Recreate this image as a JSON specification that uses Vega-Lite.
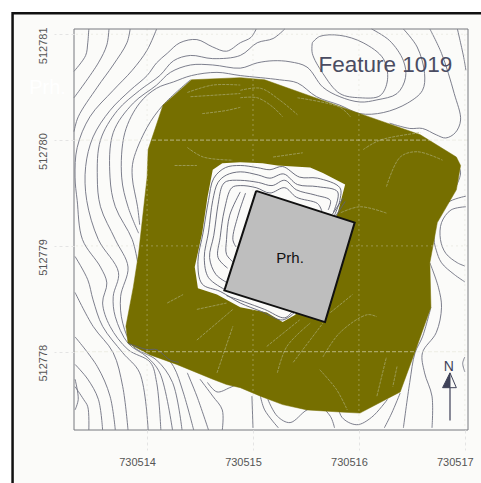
{"$schema":"https://vega.github.io/schema/vega-lite/v6.json","width":394,"height":401,"autosize":{"type":"none"},"padding":{"left":74,"top":29,"right":13,"bottom":53},"background":"white","view":{"stroke":null},
"datasets":{
"outer":[
{"c":"t1","x":730513.45,"y":512781.05},{"c":"t1","x":730513.44,"y":512780.92},{"c":"t1","x":730513.42,"y":512780.80},{"c":"t1","x":730513.31,"y":512780.65},
{"c":"t2","x":730513.64,"y":512781.05},{"c":"t2","x":730513.62,"y":512780.90},{"c":"t2","x":730513.54,"y":512780.73},{"c":"t2","x":730513.31,"y":512780.40},
{"c":"t3","x":730513.84,"y":512781.05},{"c":"t3","x":730513.81,"y":512780.92},{"c":"t3","x":730513.68,"y":512780.71},{"c":"t3","x":730513.53,"y":512780.50},{"c":"t3","x":730513.35,"y":512780.22},{"c":"t3","x":730513.31,"y":512780.08},
{"c":"t4","x":730514.09,"y":512781.05},{"c":"t4","x":730514.00,"y":512780.85},{"c":"t4","x":730513.86,"y":512780.66},{"c":"t4","x":730513.68,"y":512780.47},{"c":"t4","x":730513.46,"y":512780.22},{"c":"t4","x":730513.34,"y":512779.93},{"c":"t4","x":730513.32,"y":512779.65},{"c":"t4","x":730513.34,"y":512779.43},{"c":"t4","x":730513.39,"y":512779.06},{"c":"t4","x":730513.56,"y":512778.80},{"c":"t4","x":730513.62,"y":512778.65},{"c":"t4","x":730513.58,"y":512778.46},{"c":"t4","x":730513.65,"y":512778.24},{"c":"t4","x":730513.82,"y":512778.02},{"c":"t4","x":730514.03,"y":512777.90},{"c":"t4","x":730514.09,"y":512777.71},{"c":"t4","x":730514.13,"y":512777.26},
{"c":"t5","x":730515.03,"y":512781.05},{"c":"t5","x":730514.98,"y":512780.97},{"c":"t5","x":730514.88,"y":512780.92},{"c":"t5","x":730514.75,"y":512780.84},{"c":"t5","x":730514.62,"y":512780.88},{"c":"t5","x":730514.47,"y":512780.95},{"c":"t5","x":730514.31,"y":512780.92},{"c":"t5","x":730514.19,"y":512780.82},{"c":"t5","x":730514.09,"y":512780.73},{"c":"t5","x":730514.00,"y":512780.61},{"c":"t5","x":730513.84,"y":512780.47},{"c":"t5","x":730513.65,"y":512780.28},{"c":"t5","x":730513.49,"y":512780.03},{"c":"t5","x":730513.42,"y":512779.75},{"c":"t5","x":730513.43,"y":512779.43},{"c":"t5","x":730513.54,"y":512779.06},{"c":"t5","x":730513.73,"y":512778.75},{"c":"t5","x":730513.68,"y":512778.52},{"c":"t5","x":730513.70,"y":512778.33},{"c":"t5","x":730513.82,"y":512778.08},{"c":"t5","x":730514.00,"y":512777.95},{"c":"t5","x":730514.12,"y":512777.80},{"c":"t5","x":730514.24,"y":512777.26},
{"c":"t6","x":730515.30,"y":512781.05},{"c":"t6","x":730515.19,"y":512780.96},{"c":"t6","x":730515.04,"y":512780.92},{"c":"t6","x":730514.88,"y":512780.80},{"c":"t6","x":730514.62,"y":512780.77},{"c":"t6","x":730514.41,"y":512780.80},{"c":"t6","x":730514.25,"y":512780.75},{"c":"t6","x":730514.12,"y":512780.61},{"c":"t6","x":730513.93,"y":512780.47},{"c":"t6","x":730513.72,"y":512780.28},{"c":"t6","x":730513.56,"y":512780.00},{"c":"t6","x":730513.53,"y":512779.65},{"c":"t6","x":730513.56,"y":512779.37},{"c":"t6","x":730513.70,"y":512779.06},{"c":"t6","x":730513.82,"y":512778.80},{"c":"t6","x":730513.75,"y":512778.52},{"c":"t6","x":730513.77,"y":512778.27},{"c":"t6","x":730513.87,"y":512778.05},{"c":"t6","x":730514.09,"y":512777.92},{"c":"t6","x":730514.24,"y":512777.71},{"c":"t6","x":730514.33,"y":512777.26},
{"c":"t7","x":730516.12,"y":512781.05},{"c":"t7","x":730516.29,"y":512780.94},{"c":"t7","x":730516.42,"y":512780.75},{"c":"t7","x":730516.44,"y":512780.59},{"c":"t7","x":730516.36,"y":512780.44},{"c":"t7","x":730516.17,"y":512780.38},{"c":"t7","x":730516.01,"y":512780.36},{"c":"t7","x":730515.82,"y":512780.41},{"c":"t7","x":730515.66,"y":512780.50},{"c":"t7","x":730515.51,"y":512780.69},{"c":"t7","x":730515.35,"y":512780.74},{"c":"t7","x":730515.19,"y":512780.75},{"c":"t7","x":730515.04,"y":512780.73},{"c":"t7","x":730514.88,"y":512780.68},{"c":"t7","x":730514.62,"y":512780.71},{"c":"t7","x":730514.41,"y":512780.71},{"c":"t7","x":730514.22,"y":512780.64},{"c":"t7","x":730514.09,"y":512780.52},{"c":"t7","x":730513.87,"y":512780.35},{"c":"t7","x":730513.68,"y":512780.07},{"c":"t7","x":730513.65,"y":512779.65},{"c":"t7","x":730513.70,"y":512779.37},{"c":"t7","x":730513.86,"y":512779.06},{"c":"t7","x":730513.91,"y":512778.85},
{"c":"b9b","x":730514.12,"y":512778.02},{"c":"b9b","x":730514.25,"y":512777.86},{"c":"b9b","x":730514.34,"y":512777.62},{"c":"b9b","x":730514.44,"y":512777.26},
{"c":"t8","x":730516.42,"y":512781.05},{"c":"t8","x":730516.55,"y":512780.88},{"c":"t8","x":730516.62,"y":512780.63},{"c":"t8","x":730516.60,"y":512780.47},{"c":"t8","x":730516.46,"y":512780.35},{"c":"t8","x":730516.23,"y":512780.26},{"c":"t8","x":730516.01,"y":512780.25},{"c":"t8","x":730515.82,"y":512780.33},{"c":"t8","x":730515.60,"y":512780.41},{"c":"t8","x":730515.42,"y":512780.54},{"c":"t8","x":730515.25,"y":512780.57},{"c":"t8","x":730514.88,"y":512780.61},{"c":"t8","x":730514.66,"y":512780.64},{"c":"t8","x":730514.42,"y":512780.61},{"c":"t8","x":730514.25,"y":512780.55},{"c":"t8","x":730514.09,"y":512780.49},{"c":"t8","x":730513.93,"y":512780.35},{"c":"t8","x":730513.79,"y":512780.07},{"c":"t8","x":730513.76,"y":512779.65},{"c":"t8","x":730513.82,"y":512779.37},{"c":"t8","x":730513.92,"y":512779.12},
{"c":"t9","x":730514.41,"y":512780.57},{"c":"t9","x":730514.15,"y":512780.33},{"c":"t9","x":730514.00,"y":512780.12},{"c":"t9","x":730513.87,"y":512779.81},{"c":"t9","x":730513.86,"y":512779.65},{"c":"t9","x":730513.91,"y":512779.37},{"c":"t9","x":730513.93,"y":512779.20},
{"c":"f","x":730515.56,"y":512780.92},{"c":"f","x":730515.63,"y":512780.98},{"c":"f","x":730515.82,"y":512780.99},{"c":"f","x":730516.04,"y":512780.92},{"c":"f","x":730516.23,"y":512780.77},{"c":"f","x":730516.27,"y":512780.57},{"c":"f","x":730516.20,"y":512780.42},{"c":"f","x":730516.01,"y":512780.40},{"c":"f","x":730515.82,"y":512780.44},{"c":"f","x":730515.66,"y":512780.63},{"c":"f","x":730515.56,"y":512780.82},{"c":"f","x":730515.56,"y":512780.92},
{"c":"r1","x":730516.67,"y":512781.05},{"c":"r1","x":730516.78,"y":512780.82},{"c":"r1","x":730516.90,"y":512780.44},{"c":"r1","x":730516.96,"y":512780.19},{"c":"r1","x":730516.91,"y":512780.07},{"c":"r1","x":730516.82,"y":512780.02},{"c":"r1","x":730516.73,"y":512780.05},{"c":"r1","x":730516.60,"y":512780.11},{"c":"r1","x":730516.48,"y":512780.11},{"c":"r1","x":730516.29,"y":512780.16},
{"c":"r2","x":730516.93,"y":512781.05},{"c":"r2","x":730516.99,"y":512780.78},{"c":"r2","x":730517.01,"y":512780.66},
{"c":"ca","x":730516.91,"y":512779.81},{"c":"ca","x":730516.96,"y":512779.69},{"c":"ca","x":730516.90,"y":512779.53},
{"c":"r3","x":730517.01,"y":512779.47},{"c":"r3","x":730516.84,"y":512779.41},{"c":"r3","x":730516.73,"y":512779.25},{"c":"r3","x":730516.71,"y":512779.06},{"c":"r3","x":730516.73,"y":512778.96},{"c":"r3","x":730516.78,"y":512778.84},{"c":"r3","x":730516.90,"y":512778.73},{"c":"r3","x":730517.00,"y":512778.66},
{"c":"r4","x":730517.01,"y":512779.37},{"c":"r4","x":730516.87,"y":512779.34},{"c":"r4","x":730516.78,"y":512779.22},{"c":"r4","x":730516.77,"y":512779.06},{"c":"r4","x":730516.82,"y":512778.93},{"c":"r4","x":730516.93,"y":512778.84},{"c":"r4","x":730517.00,"y":512778.81},
{"c":"r5","x":730516.67,"y":512778.84},{"c":"r5","x":730516.75,"y":512778.61},{"c":"r5","x":730516.78,"y":512778.42},{"c":"r5","x":730516.73,"y":512778.18},{"c":"r5","x":730516.60,"y":512777.99},{"c":"r5","x":730516.62,"y":512777.80},{"c":"r5","x":730516.69,"y":512777.58},{"c":"r5","x":730516.69,"y":512777.28},
{"c":"r6","x":730516.68,"y":512778.42},{"c":"r6","x":730516.60,"y":512778.14},{"c":"r6","x":730516.53,"y":512777.99},{"c":"r6","x":730516.48,"y":512777.71},{"c":"r6","x":730516.42,"y":512777.28},
{"c":"r7","x":730516.39,"y":512777.61},{"c":"r7","x":730516.31,"y":512777.42},{"c":"r7","x":730516.24,"y":512777.28},
{"c":"r8","x":730517.00,"y":512777.95},{"c":"r8","x":730516.98,"y":512777.89},{"c":"r8","x":730517.00,"y":512777.81},
{"c":"k1","x":730514.99,"y":512777.58},{"c":"k1","x":730515.00,"y":512777.28},
{"c":"k2","x":730515.07,"y":512777.58},{"c":"k2","x":730515.11,"y":512777.45},{"c":"k2","x":730515.24,"y":512777.28},
{"c":"k3","x":730515.14,"y":512777.55},{"c":"k3","x":730515.23,"y":512777.39},{"c":"k3","x":730515.35,"y":512777.33},{"c":"k3","x":730515.51,"y":512777.45},{"c":"k3","x":730515.63,"y":512777.48},{"c":"k3","x":730515.73,"y":512777.39},{"c":"k3","x":730515.77,"y":512777.28},
{"c":"k5","x":730515.79,"y":512777.55},{"c":"k5","x":730515.84,"y":512777.38},{"c":"k5","x":730515.98,"y":512777.31},{"c":"k5","x":730516.12,"y":512777.38},{"c":"k5","x":730516.27,"y":512777.55},
{"c":"b1","x":730513.32,"y":512777.67},{"c":"b1","x":730513.40,"y":512777.55},{"c":"b1","x":730513.44,"y":512777.48},{"c":"b1","x":730513.45,"y":512777.26},
{"c":"a0","x":730513.32,"y":512777.74},{"c":"a0","x":730513.35,"y":512777.55},{"c":"a0","x":730513.32,"y":512777.45},
{"c":"b2","x":730513.32,"y":512777.88},{"c":"b2","x":730513.44,"y":512777.74},{"c":"b2","x":730513.54,"y":512777.55},{"c":"b2","x":730513.58,"y":512777.26},
{"c":"b3","x":730513.32,"y":512778.14},{"c":"b3","x":730513.53,"y":512777.86},{"c":"b3","x":730513.65,"y":512777.58},{"c":"b3","x":730513.70,"y":512777.26},
{"c":"b4","x":730513.32,"y":512778.56},{"c":"b4","x":730513.49,"y":512778.24},{"c":"b4","x":730513.68,"y":512777.99},{"c":"b4","x":730513.77,"y":512777.67},{"c":"b4","x":730513.82,"y":512777.26},
{"c":"b5","x":730513.32,"y":512778.90},{"c":"b5","x":730513.44,"y":512778.68},{"c":"b5","x":730513.49,"y":512778.49},{"c":"b5","x":730513.58,"y":512778.24},{"c":"b5","x":730513.77,"y":512777.99},{"c":"b5","x":730513.93,"y":512777.80},{"c":"b5","x":730514.01,"y":512777.26},
{"c":"b10","x":730514.38,"y":512777.80},{"c":"b10","x":730514.47,"y":512777.58},{"c":"b10","x":730514.58,"y":512777.26},
{"c":"b11","x":730514.50,"y":512777.74},{"c":"b11","x":730514.62,"y":512777.58},{"c":"b11","x":730514.71,"y":512777.45},{"c":"b11","x":730514.71,"y":512777.26},
{"c":"b12","x":730514.57,"y":512777.71},{"c":"b12","x":730514.66,"y":512777.62},{"c":"b12","x":730514.78,"y":512777.66},{"c":"b12","x":730514.88,"y":512777.71}
],
"olive":[{"x":730514.42,"y":512780.57},{"x":730514.88,"y":512780.59},{"x":730515.11,"y":512780.57},{"x":730516.01,"y":512780.25},{"x":730516.58,"y":512780.05},{"x":730516.92,"y":512779.84},{"x":730516.96,"y":512779.76},{"x":730516.92,"y":512779.53},{"x":730516.74,"y":512779.22},{"x":730516.67,"y":512778.84},{"x":730516.68,"y":512778.42},{"x":730516.53,"y":512778.00},{"x":730516.39,"y":512777.62},{"x":730516.20,"y":512777.52},{"x":730516.01,"y":512777.42},{"x":730515.82,"y":512777.43},{"x":730515.51,"y":512777.45},{"x":730515.28,"y":512777.50},{"x":730515.07,"y":512777.58},{"x":730514.88,"y":512777.66},{"x":730514.75,"y":512777.69},{"x":730514.62,"y":512777.74},{"x":730514.28,"y":512777.88},{"x":730514.03,"y":512777.97},{"x":730513.82,"y":512778.08},{"x":730513.80,"y":512778.24},{"x":730513.87,"y":512778.61},{"x":730513.92,"y":512778.93},{"x":730514.00,"y":512779.65},{"x":730514.01,"y":512779.91},{"x":730514.15,"y":512780.33},{"x":730514.42,"y":512780.57}],
"hole":[{"x":730514.62,"y":512779.72},{"x":730514.71,"y":512779.78},{"x":730514.88,"y":512779.79},{"x":730515.09,"y":512779.78},{"x":730515.23,"y":512779.76},{"x":730515.54,"y":512779.74},{"x":730515.66,"y":512779.69},{"x":730515.87,"y":512779.58},{"x":730515.80,"y":512779.31},{"x":730515.63,"y":512778.87},{"x":730515.40,"y":512778.35},{"x":730515.28,"y":512778.28},{"x":730515.13,"y":512778.37},{"x":730514.88,"y":512778.42},{"x":730514.66,"y":512778.54},{"x":730514.48,"y":512778.60},{"x":730514.45,"y":512778.80},{"x":730514.50,"y":512779.03},{"x":730514.52,"y":512779.12},{"x":730514.57,"y":512779.46},{"x":730514.62,"y":512779.72}],
"inner":[
{"c":"h1","x":730515.77,"y":512779.29},{"c":"h1","x":730515.82,"y":512779.43},{"c":"h1","x":730515.82,"y":512779.55},{"c":"h1","x":730515.61,"y":512779.64},{"c":"h1","x":730515.44,"y":512779.65},{"c":"h1","x":730515.28,"y":512779.75},{"c":"h1","x":730515.16,"y":512779.72},{"c":"h1","x":730515.04,"y":512779.74},{"c":"h1","x":730514.88,"y":512779.76},{"c":"h1","x":730514.74,"y":512779.74},{"c":"h1","x":730514.63,"y":512779.64},{"c":"h1","x":730514.58,"y":512779.43},{"c":"h1","x":730514.53,"y":512779.13},{"c":"h1","x":730514.48,"y":512778.85},{"c":"h1","x":730514.52,"y":512778.64},{"c":"h1","x":730514.69,"y":512778.57},{"c":"h1","x":730514.88,"y":512778.46},{"c":"h1","x":730515.08,"y":512778.38},{"c":"h1","x":730515.28,"y":512778.30},{"c":"h1","x":730515.40,"y":512778.38},
{"c":"h2","x":730515.76,"y":512779.32},{"c":"h2","x":730515.80,"y":512779.51},{"c":"h2","x":730515.61,"y":512779.56},{"c":"h2","x":730515.42,"y":512779.58},{"c":"h2","x":730515.29,"y":512779.68},{"c":"h2","x":730515.16,"y":512779.64},{"c":"h2","x":730515.05,"y":512779.67},{"c":"h2","x":730514.88,"y":512779.70},{"c":"h2","x":730514.75,"y":512779.67},{"c":"h2","x":730514.67,"y":512779.60},{"c":"h2","x":730514.62,"y":512779.43},{"c":"h2","x":730514.58,"y":512779.13},{"c":"h2","x":730514.54,"y":512778.89},{"c":"h2","x":730514.58,"y":512778.70},{"c":"h2","x":730514.73,"y":512778.59},
{"c":"h3","x":730515.71,"y":512779.34},{"c":"h3","x":730515.73,"y":512779.43},{"c":"h3","x":730515.59,"y":512779.48},{"c":"h3","x":730515.41,"y":512779.53},{"c":"h3","x":730515.30,"y":512779.62},{"c":"h3","x":730515.18,"y":512779.57},{"c":"h3","x":730515.05,"y":512779.60},{"c":"h3","x":730514.88,"y":512779.62},{"c":"h3","x":730514.75,"y":512779.61},{"c":"h3","x":730514.71,"y":512779.57},{"c":"h3","x":730514.67,"y":512779.39},{"c":"h3","x":730514.63,"y":512779.10},{"c":"h3","x":730514.59,"y":512778.89},{"c":"h3","x":730514.65,"y":512778.73},{"c":"h3","x":730514.76,"y":512778.65},
{"c":"h4","x":730515.65,"y":512779.33},{"c":"h4","x":730515.61,"y":512779.40},{"c":"h4","x":730515.41,"y":512779.46},{"c":"h4","x":730515.30,"y":512779.55},{"c":"h4","x":730515.16,"y":512779.50},{"c":"h4","x":730515.03,"y":512779.55},{"c":"h4","x":730514.88,"y":512779.57},{"c":"h4","x":730514.80,"y":512779.55},{"c":"h4","x":730514.73,"y":512779.34},{"c":"h4","x":730514.69,"y":512779.08},{"c":"h4","x":730514.67,"y":512778.89},{"c":"h4","x":730514.76,"y":512778.79},
{"c":"h5","x":730514.88,"y":512779.51},{"c":"h5","x":730514.78,"y":512779.29},{"c":"h5","x":730514.75,"y":512779.06},{"c":"h5","x":730514.75,"y":512778.92},{"c":"h5","x":730514.81,"y":512778.85},
{"c":"h6","x":730514.93,"y":512779.50},{"c":"h6","x":730514.86,"y":512779.29},{"c":"h6","x":730514.81,"y":512779.06},{"c":"h6","x":730514.84,"y":512778.99},
{"c":"h7","x":730514.75,"y":512778.53},{"c":"h7","x":730514.92,"y":512778.47},{"c":"h7","x":730515.11,"y":512778.40},{"c":"h7","x":730515.30,"y":512778.32},{"c":"h7","x":730515.37,"y":512778.38},
{"c":"v1","x":730515.75,"y":512779.30},{"c":"v1","x":730515.85,"y":512779.45},
{"c":"v2","x":730515.78,"y":512779.28},{"c":"v2","x":730515.87,"y":512779.42},
{"c":"d","x":730513.82,"y":512778.08},{"c":"d","x":730514.00,"y":512778.02},{"c":"d","x":730514.09,"y":512778.02},{"c":"d","x":730514.22,"y":512777.92},{"c":"d","x":730514.30,"y":512777.90}
],
"pale":[
{"c":"p1","x":730514.88,"y":512780.47},{"c":"p1","x":730515.07,"y":512780.49},{"c":"p1","x":730515.25,"y":512780.38},{"c":"p1","x":730515.42,"y":512780.24},
{"c":"p2","x":730514.88,"y":512780.40},{"c":"p2","x":730515.04,"y":512780.40},{"c":"p2","x":730515.19,"y":512780.31},{"c":"p2","x":730515.28,"y":512780.22},
{"c":"p3","x":730515.42,"y":512780.40},{"c":"p3","x":730515.82,"y":512780.31},{"c":"p3","x":730515.92,"y":512780.22},
{"c":"p4","x":730516.04,"y":512779.91},{"c":"p4","x":730516.20,"y":512780.00},{"c":"p4","x":730516.58,"y":512780.07},
{"c":"p5","x":730516.26,"y":512779.56},{"c":"p5","x":730516.39,"y":512779.84},{"c":"p5","x":730516.55,"y":512779.89},{"c":"p5","x":730516.79,"y":512779.81},
{"c":"p6","x":730515.66,"y":512777.95},{"c":"p6","x":730515.82,"y":512778.18},{"c":"p6","x":730516.08,"y":512778.35},{"c":"p6","x":730516.17,"y":512778.33},
{"c":"p7","x":730515.63,"y":512777.83},{"c":"p7","x":730515.79,"y":512777.64},{"c":"p7","x":730515.89,"y":512777.45},
{"c":"p8","x":730515.73,"y":512778.37},{"c":"p8","x":730515.94,"y":512778.54},
{"c":"p9","x":730515.38,"y":512777.90},{"c":"p9","x":730515.66,"y":512778.27},
{"c":"p10","x":730515.23,"y":512777.80},{"c":"p10","x":730515.32,"y":512778.05},{"c":"p10","x":730515.54,"y":512778.27},
{"c":"p11","x":730515.13,"y":512778.05},{"c":"p11","x":730515.44,"y":512778.30},
{"c":"p12","x":730516.17,"y":512777.58},{"c":"p12","x":730516.26,"y":512777.95},
{"c":"p13","x":730516.36,"y":512777.86},{"c":"p13","x":730516.32,"y":512777.67},
{"c":"p14","x":730514.19,"y":512778.46},{"c":"p14","x":730514.34,"y":512778.54},
{"c":"p15","x":730514.47,"y":512778.11},{"c":"p15","x":730514.81,"y":512778.40},
{"c":"p16","x":730514.66,"y":512777.80},{"c":"p16","x":730514.81,"y":512778.24},
{"c":"p17","x":730514.47,"y":512778.40},{"c":"p17","x":730514.75,"y":512778.46},
{"c":"p18","x":730514.38,"y":512780.45},{"c":"p18","x":730514.62,"y":512780.52},{"c":"p18","x":730514.88,"y":512780.52},
{"c":"p19","x":730514.41,"y":512780.41},{"c":"p19","x":730514.88,"y":512780.44},
{"c":"p20","x":730514.52,"y":512780.25},{"c":"p20","x":730514.75,"y":512780.28},{"c":"p20","x":730514.88,"y":512780.31},
{"c":"p21","x":730514.38,"y":512779.93},{"c":"p21","x":730514.53,"y":512779.84},{"c":"p21","x":730514.81,"y":512779.81},
{"c":"p22","x":730514.26,"y":512779.76},{"c":"p22","x":730514.47,"y":512779.76},
{"c":"p23","x":730516.26,"y":512779.31},{"c":"p23","x":730516.01,"y":512779.37},{"c":"p23","x":730515.82,"y":512779.31},
{"c":"p25","x":730515.19,"y":512779.84},{"c":"p25","x":730515.47,"y":512779.88}
],
"building":[{"x":730515.03,"y":512779.52},{"x":730515.96,"y":512779.22},{"x":730515.68,"y":512778.28},{"x":730514.73,"y":512778.58},{"x":730515.03,"y":512779.52}]
},
"encoding":{
"x":{"field":"x","type":"quantitative","scale":{"domain":[730513.31,730517.03],"nice":false,"zero":false},"axis":{"title":null,"values":[730514,730515,730516,730517],"format":"d","grid":false,"domain":false,"zindex":1,"tickSize":20,"tickColor":"#e4e4e4","tickDash":[3,3],"labelPadding":6,"labelOffset":-10,"labelFont":"Liberation Sans","labelFontSize":11,"labelColor":"#555555"}},
"y":{"field":"y","type":"quantitative","scale":{"domain":[512777.26,512781.05],"nice":false,"zero":false},"axis":{"title":null,"values":[512778,512779,512780,512781],"format":"d","grid":false,"domain":false,"zindex":1,"tickSize":20,"tickColor":"#e4e4e4","tickDash":[3,3],"labelAngle":270,"labelAlign":"center","labelBaseline":"bottom","labelPadding":6,"labelOffset":11,"labelFont":"Liberation Sans","labelFontSize":11,"labelColor":"#555555"}}
},
"layer":[
{"data":{"values":[{"x":730512.73,"x2":730517.33,"y":512781.20,"y2":512776.6}]},"mark":{"type":"rect","fill":"#FBFBF9","stroke":"#111111","strokeWidth":2.5},"encoding":{"x2":{"field":"x2"},"y2":{"field":"y2"}}},
{"data":{"name":"outer"},"mark":{"type":"line","order":false,"interpolate":"catmull-rom","stroke":"#6E7080","strokeWidth":0.9},"encoding":{"detail":{"field":"c"}}},
{"data":{"name":"olive"},"mark":{"type":"line","order":false,"fill":"#766F00","stroke":"#766F00","strokeWidth":0.5}},
{"data":{"name":"hole"},"mark":{"type":"line","order":false,"fill":"#FBFBF9","stroke":null}},
{"data":{"name":"inner"},"mark":{"type":"line","order":false,"interpolate":"catmull-rom","stroke":"#5E6070","strokeWidth":0.9},"encoding":{"detail":{"field":"c"}}},
{"data":{"name":"pale"},"mark":{"type":"line","order":false,"interpolate":"catmull-rom","stroke":"#A5A468","strokeWidth":0.8,"strokeDash":[3,1]},"encoding":{"detail":{"field":"c"}}},
{"data":{"values":[{"x":730514},{"x":730515},{"x":730516},{"x":730517}]},"mark":{"type":"rule","stroke":"#D8D8C8","strokeWidth":0.7,"strokeDash":[2,3],"opacity":0.55},"encoding":{"y":null}},
{"data":{"values":[{"y":512779},{"y":512781}]},"mark":{"type":"rule","stroke":"#D8D8C8","strokeWidth":0.7,"strokeDash":[2,3],"opacity":0.55},"encoding":{"x":null}},
{"data":{"values":[{"y":512778},{"y":512780}]},"mark":{"type":"rule","stroke":"#E4E4D8","strokeWidth":0.8,"strokeDash":[4,2],"opacity":0.75},"encoding":{"x":null}},
{"data":{"name":"building"},"mark":{"type":"line","order":false,"fill":"#BEBEBE","stroke":"#111111","strokeWidth":2}},
{"data":{"values":[{"x":730513.31,"x2":730517.03,"y":512781.05,"y2":512777.26}]},"mark":{"type":"rect","fill":null,"stroke":"#77787F","strokeWidth":1},"encoding":{"x2":{"field":"x2"},"y2":{"field":"y2"}}},
{"data":{"values":[{"x":730516.25,"y":512780.71,"t":"Feature 1019"}]},"mark":{"type":"text","font":"Liberation Sans","fontSize":22.5,"fill":"#4A4C62"},"encoding":{"text":{"field":"t"}}},
{"data":{"values":[{"x":730515.35,"y":512778.89,"t":"Prh."}]},"mark":{"type":"text","font":"Liberation Sans","fontSize":15,"fill":"#111111"},"encoding":{"text":{"field":"t"}}},
{"data":{"values":[{"x":730513.06,"y":512780.49,"t":"Prh."}]},"mark":{"type":"text","font":"Liberation Sans","fontSize":20,"fill":"#FFFFFF"},"encoding":{"text":{"field":"t"}}},
{"data":{"values":[{"x":730516.85,"y":512777.86,"t":"N"}]},"mark":{"type":"text","font":"Liberation Sans","fontSize":14,"fill":"#3F4258"},"encoding":{"text":{"field":"t"}}},
{"data":{"values":[{"x":730516.86,"y":512777.80},{"x":730516.79,"y":512777.66},{"x":730516.86,"y":512777.66},{"x":730516.86,"y":512777.80}]},"mark":{"type":"line","order":false,"fill":"#3F4258","stroke":"#3F4258","strokeWidth":1}},
{"data":{"values":[{"x":730516.86,"y":512777.80},{"x":730516.92,"y":512777.66},{"x":730516.86,"y":512777.66}]},"mark":{"type":"line","order":false,"stroke":"#3F4258","strokeWidth":1}},
{"data":{"values":[{"x":730516.86,"y":512777.66},{"x":730516.86,"y":512777.35}]},"mark":{"type":"line","order":false,"stroke":"#4A4C62","strokeWidth":1.3}}
]}
